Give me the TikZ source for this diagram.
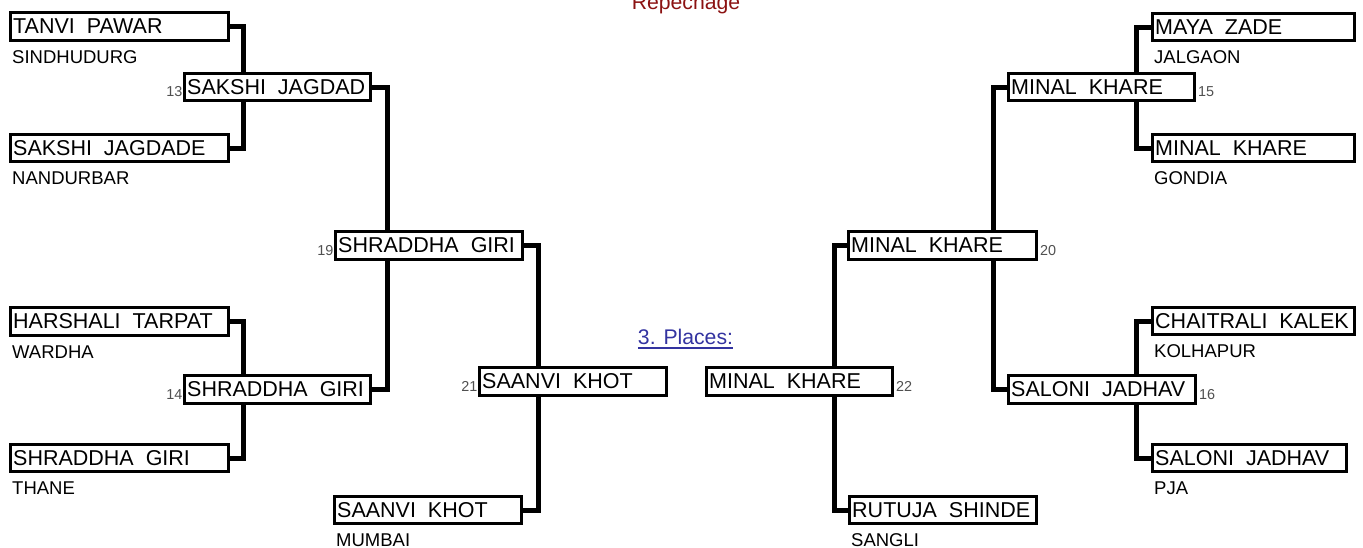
\documentclass[tikz,border=0pt]{standalone}
\usepackage{fontspec}
\setmainfont{Liberation Sans}
\usetikzlibrary{backgrounds}
\definecolor{repred}{RGB}{139,18,18}
\definecolor{plblue}{RGB}{51,51,160}
\definecolor{numgray}{RGB}{80,80,80}
\newcommand{\entry}[6]{%
  \node[wb, minimum width={(#4-#2-3)*1pt}, minimum height={(#5-#3-3)*1pt}] (#1) at ({#2+1.5},{#3+1.5}) {};
  \node[nm] (#1t) at ({#2+4},{#3+22}) {#6};}
\newcommand{\subtag}[4]{\node[sb] (#1) at ({#2+3},{#3+21}) {#4};}
\begin{document}
\begin{tikzpicture}[x=1pt,y=-1pt,
  wb/.style={draw, line width=3pt, fill=white, anchor=north west, inner sep=0pt, outer sep=0pt},
  nm/.style={anchor=base west, inner sep=0pt, font=\fontsize{21.5}{24}\selectfont},
  sb/.style={anchor=base west, inner sep=0pt, font=\fontsize{18.5}{21}\selectfont},
  numl/.style={anchor=base east, inner sep=0pt, text=numgray, font=\fontsize{14.4}{16}\selectfont},
  numr/.style={anchor=base west, inner sep=0pt, text=numgray, font=\fontsize{14.4}{16}\selectfont},
  conn/.style={line width=5pt, line join=miter}]
\useasboundingbox (0,0) rectangle (1363,547);
% left bracket
\entry{A}{9}{11}{230}{42}{TANVI\ \ PAWAR}
\subtag{As}{9}{42}{SINDHUDURG}
\entry{B}{9}{133}{230}{163}{SAKSHI\ \ JAGDADE}
\subtag{Bs}{9}{163}{NANDURBAR}
\entry{C}{9}{306}{230}{337}{HARSHALI\ \ TARPAT}
\subtag{Cs}{9}{337}{WARDHA}
\entry{D}{9}{443}{230}{473}{SHRADDHA\ \ GIRI}
\subtag{Ds}{9}{473}{THANE}
\entry{E}{183}{72}{372}{102}{SAKSHI\ \ JAGDAD}
\node[numl] (nE) at (182.5,96.5) {13};
\entry{F}{183}{374}{372}{405}{SHRADDHA\ \ GIRI}
\node[numl] (nF) at (182.5,399.5) {14};
\entry{G}{334}{230}{524}{261}{SHRADDHA\ \ GIRI}
\node[numl] (nG) at (333.5,255.5) {19};
\entry{H}{333}{495}{523}{525}{SAANVI\ \ KHOT}
\subtag{Hs}{333}{525}{MUMBAI}
\entry{I}{478}{366}{668}{397}{SAANVI\ \ KHOT}
\node[numl] (nI) at (477.5,391.5) {21};
% right bracket
\entry{J}{1151}{12}{1356}{42}{MAYA\ \ ZADE}
\subtag{Js}{1151}{42}{JALGAON}
\entry{K}{1151}{133}{1356}{163}{MINAL\ \ KHARE}
\subtag{Ks}{1151}{163}{GONDIA}
\entry{L}{1151}{306}{1356}{336}{CHAITRALI\ \ KALEK}
\subtag{Ls}{1151}{336}{KOLHAPUR}
\entry{M}{1151}{443}{1348}{473}{SALONI\ \ JADHAV}
\subtag{Ms}{1151}{473}{PJA}
\entry{N}{1007}{72}{1196}{102}{MINAL\ \ KHARE}
\node[numr] (nN) at (1198,96.5) {15};
\entry{O}{1007}{374}{1197}{405}{SALONI\ \ JADHAV}
\node[numr] (nO) at (1199,399.5) {16};
\entry{P}{847}{230}{1038}{261}{MINAL\ \ KHARE}
\node[numr] (nP) at (1040,255.5) {20};
\entry{Q}{848}{495}{1038}{525}{RUTUJA\ \ SHINDE}
\subtag{Qs}{848}{525}{SANGLI}
\entry{R}{705}{366}{894}{397}{MINAL\ \ KHARE}
\node[numr] (nR) at (896,391.5) {22};
% titles
\node[anchor=base, inner sep=0pt, text=repred, font=\fontsize{21.2}{24}\selectfont] (rep) at (686,9.5) {Repechage};
\node[anchor=base, inner sep=0pt, text=plblue, font=\fontsize{21.2}{24}\selectfont] (pl) at (685.5,344) {3. Places:};
\draw[plblue, line width=1.8pt] ([yshift=-4pt]pl.base west) -- ([yshift=-4pt]pl.base east);
% connector joints
\coordinate (vAB) at (243.5,0);
\coordinate (vEF) at (387.5,0);
\coordinate (vGH) at (538,0);
\coordinate (vJK) at (1136.5,0);
\coordinate (vNO) at (993.5,0);
\coordinate (vPQ) at (834.5,0);
\begin{scope}[on background layer]
\draw[conn] (A.east) -| (vAB |- B.east) -- (B.east);
\draw[conn] (C.east) -| (vAB |- D.east) -- (D.east);
\draw[conn] (E.east) -| (vEF |- F.east) -- (F.east);
\draw[conn] (G.east) -| (vGH |- H.east) -- (H.east);
\draw[conn] (J.west) -| (vJK |- K.west) -- (K.west);
\draw[conn] (L.west) -| (vJK |- M.west) -- (M.west);
\draw[conn] (N.west) -| (vNO |- O.west) -- (O.west);
\draw[conn] (P.west) -| (vPQ |- Q.west) -- (Q.west);
\end{scope}
\end{tikzpicture}
\end{document}
